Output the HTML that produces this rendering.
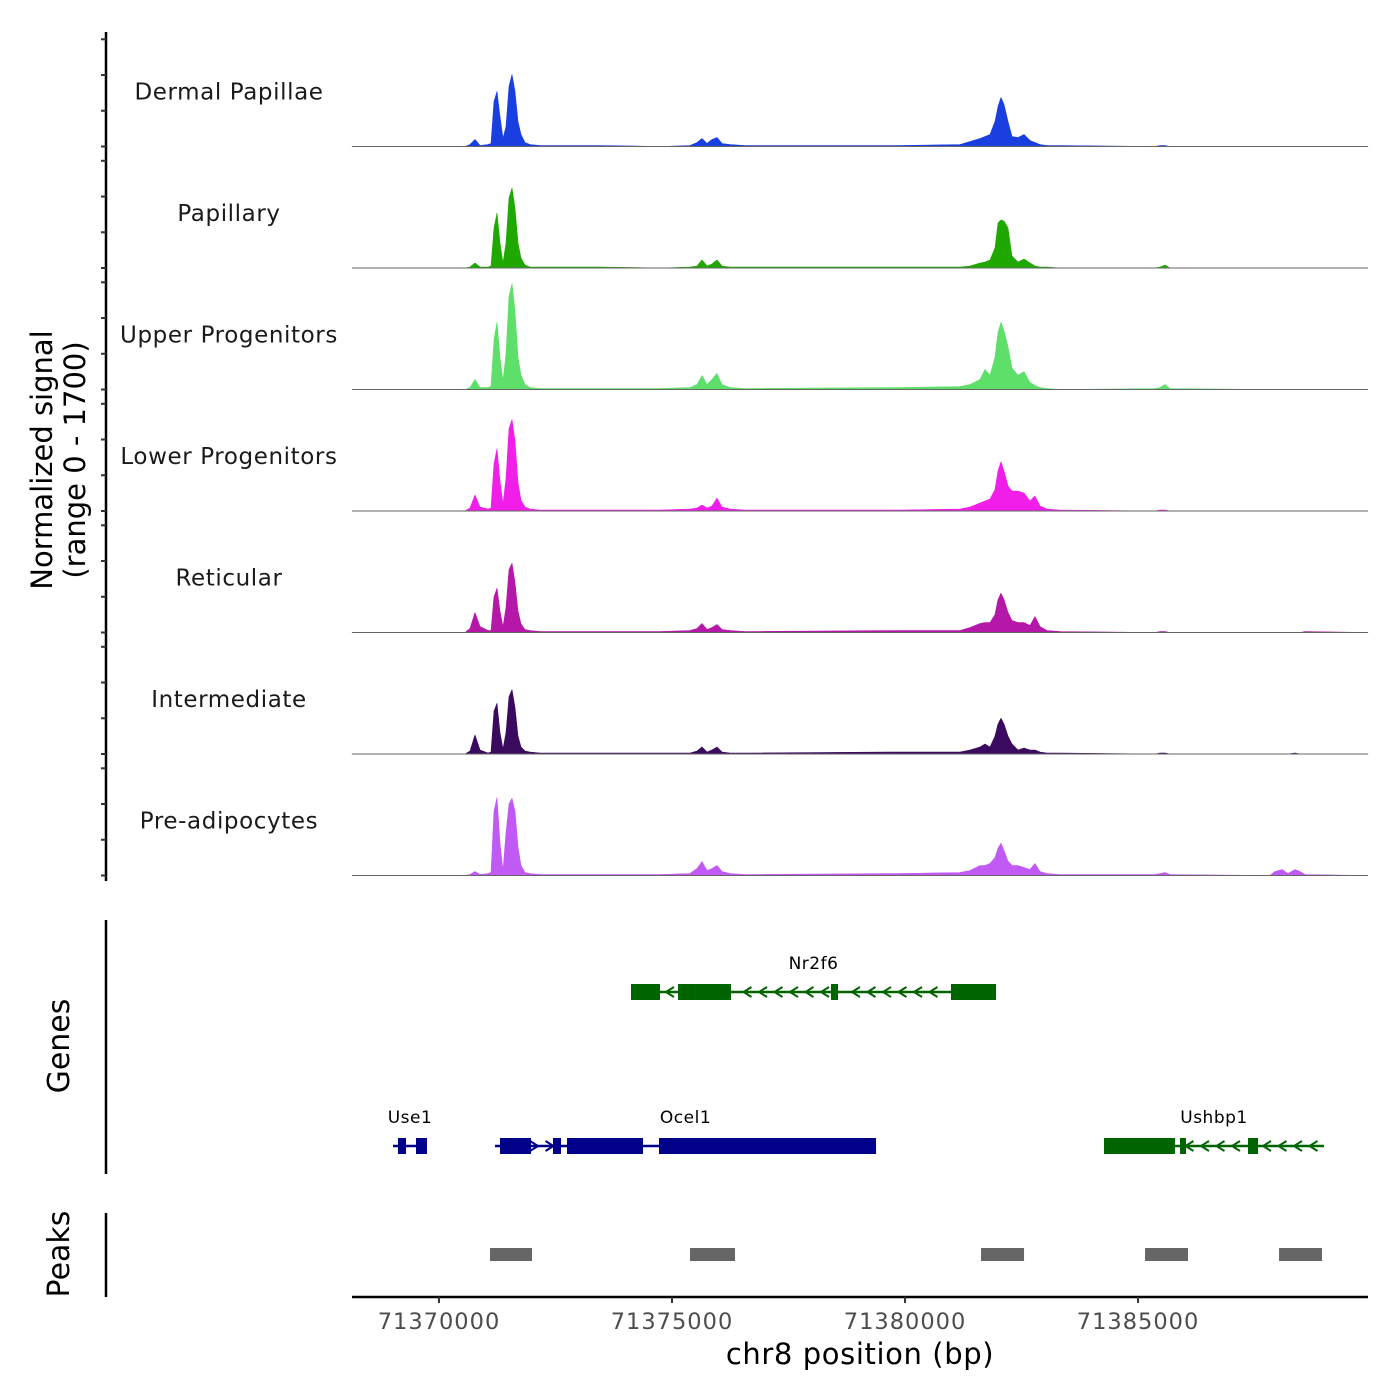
<!DOCTYPE html>
<html><head><meta charset="utf-8"><style>
html,body{margin:0;padding:0;background:#fff}
svg{display:block;font-family:"DejaVu Sans","Liberation Sans",sans-serif}
</style></head><body>
<svg id="chart" width="1400" height="1400" viewBox="0 0 1400 1400" xmlns="http://www.w3.org/2000/svg">
<g id="axes"></g>
<g id="tracks"></g>
<g id="genes"></g>
<g id="peaks"></g>
</svg>
<script>
const positions=[71368133,71370558,71370665,71370773,71370880,71371051,71371116,71371180,71371245,71371309,71371373,71371438,71371502,71371567,71371631,71371695,71371760,71371845,71371953,71372167,71373455,71374742,71375386,71375536,71375644,71375751,71375858,71375966,71376073,71376245,71376566,71379893,71381180,71381395,71381609,71381717,71381824,71381931,71381996,71382060,71382124,71382210,71382296,71382425,71382554,71382682,71382790,71382897,71383047,71383326,71385365,71385472,71385579,71385687,71387833,71387940,71388090,71388219,71388369,71388476,71388583,71389935];
const trackNames=["Dermal Papillae","Papillary","Upper Progenitors","Lower Progenitors","Reticular","Intermediate","Pre-adipocytes"];
const trackColors=["#1a3fe0","#1fa800","#5edf6a","#f01ee8","#b517a8","#3a0a5e","#c15af5"];
const dermalPapillae=[0,0,28,98,14,28,42,630,770,420,112,280,840,1008,770,350,168,56,28,14,14,0,14,56,112,42,98,126,42,28,14,14,28,70,112,140,168,350,560,686,588,350,140,126,168,84,56,28,14,14,0,14,14,0,0,0,0,0,0,0,0,0];
const papillary=[0,0,14,70,14,14,28,560,770,350,70,350,980,1120,840,350,140,42,14,14,14,0,14,28,112,28,56,112,28,14,14,14,14,28,70,84,112,280,630,672,658,560,168,84,126,70,28,14,14,0,0,14,42,0,0,0,0,0,0,0,0,0];
const upperProgenitors=[0,0,28,140,28,28,42,700,940,450,120,500,1300,1480,1100,450,200,70,28,14,14,14,28,70,196,70,140,224,70,28,14,28,42,70,140,280,200,450,800,940,820,600,300,200,250,100,56,28,14,0,14,28,70,14,0,0,0,0,0,0,0,0];
const lowerProgenitors=[0,0,42,224,56,28,42,660,870,420,100,450,1150,1280,980,400,150,56,28,14,14,14,28,42,84,42,70,182,56,28,14,14,28,56,112,140,168,300,560,690,560,350,280,280,250,140,210,70,28,14,0,14,14,0,0,0,0,0,0,0,0,0];
const reticular=[0,0,56,280,84,28,28,500,620,300,80,350,880,970,700,300,120,42,28,14,14,14,28,56,126,42,70,112,42,28,14,28,28,70,126,140,140,250,460,550,460,280,168,140,140,98,224,84,28,14,0,14,14,0,0,0,0,0,0,0,14,0];
const intermediate=[0,0,42,266,56,14,28,600,710,300,70,300,800,900,650,250,100,42,28,14,14,14,14,42,98,28,56,98,28,14,14,28,28,56,98,140,98,250,420,500,420,250,140,56,84,56,56,28,14,14,0,14,14,0,0,0,0,0,14,0,0,0];
const preAdipocytes=[0,0,14,56,14,28,42,900,1090,450,70,600,1000,1080,900,400,140,42,28,14,14,14,28,98,196,70,98,140,56,28,14,28,42,70,140,140,170,250,380,450,350,200,140,140,112,84,168,56,28,14,14,28,42,14,0,56,84,28,84,56,14,0];
const trackValues=[dermalPapillae,papillary,upperProgenitors,lowerProgenitors,reticular,intermediate,preAdipocytes];
const xTicks=[71370000,71375000,71380000,71385000];
const xTickLabels=["71370000","71375000","71380000","71385000"];
const geneNames=["Nr2f6","Use1","Ocel1","Ushbp1"];
const geneStrand=[-1,1,1,-1];
const geneRow=[0,1,1,1];
const geneStart=[71374120,71369013,71371202,71384270];
const geneEnd=[71381953,71369742,71379378,71388991];
const geneExons=[[[71374120,71374742],[71375129,71375494],[71375494,71376266],[71378412,71378562],[71380987,71381953]],[[71369120,71369292],[71369506,71369742]],[[71371309,71371974],[71372446,71372618],[71372747,71374378],[71374721,71379378]],[[71384270,71385794],[71385901,71386030],[71387360,71387575]]];
const peakStarts=[71371094,71375386,71381631,71385150,71388026];
const peakEnds=[71371996,71376352,71382554,71386073,71388948];

const NS="http://www.w3.org/2000/svg";
const X0=71368133,X1=71389935,PX0=352,PX1=1368;
function xs(bp){return PX0+(bp-X0)/(X1-X0)*(PX1-PX0);}
const YMAX=1700,TH=121.5,BASE0=146.5;
function ys(v,i){return BASE0+i*TH-v/YMAX*TH;}
function mk(tag,attrs,parent){const e=document.createElementNS(NS,tag);for(const k in attrs)e.setAttribute(k,attrs[k]);parent.appendChild(e);return e;}
const axes=document.getElementById('axes'),tracks=document.getElementById('tracks'),genes=document.getElementById('genes'),peaks=document.getElementById('peaks');

let l=mk('line',{x1:106,y1:32,x2:106,y2:881,stroke:'#000','stroke-width':2.5},axes);


for(let i=0;i<7;i++){for(let k=0;k<4;k++){const v=k*500;const y=ys(v,i);
 const t=mk('line',{x1:101,y1:y,x2:106,y2:y,stroke:'#333','stroke-width':2},axes);
 
 }}
let yt=mk('text',{transform:'translate(52,460) rotate(-90)','text-anchor':'middle','font-size':29,fill:'#000'},axes);


mk('tspan',{x:0,dy:0},yt).textContent='Normalized signal';
mk('tspan',{x:0,dy:33},yt).textContent='(range 0 - 1700)';

trackNames.forEach((name,i)=>{
 const base=ys(0,i);const vals=trackValues[i];
 let d='M'+xs(positions[0])+','+base;
 positions.forEach((p,j)=>{d+=' L'+xs(p).toFixed(1)+','+ys(vals[j],i).toFixed(1);});
 d+=' L'+xs(positions[positions.length-1])+','+base+' Z';
 const a=mk('path',{d:d,fill:trackColors[i],stroke:trackColors[i],'stroke-width':0.6,'stroke-linejoin':'round'},tracks);
 
 
 const bl=mk('line',{x1:PX0,y1:base,x2:PX1,y2:base,stroke:'#666','stroke-width':1},tracks);
 
 
 const tx=mk('text',{x:229,y:base-47,'text-anchor':'middle','font-size':23,fill:'#1a1a1a','letter-spacing':'0.6'},tracks);
 
 
 tx.textContent=name;
});

let ga=mk('line',{x1:106,y1:920,x2:106,y2:1174,stroke:'#000','stroke-width':2.5},axes);


let gt=mk('text',{transform:'translate(69,1046) rotate(-90)','text-anchor':'middle','font-size':30,fill:'#000'},axes);


gt.textContent='Genes';
const rowY=[992,1146];
geneNames.forEach((g,i)=>{
 const y=rowY[geneRow[i]];const col=geneStrand[i]<0?'#006400':'#00008b';
 const grp=mk('g',{},genes);
 
 
 mk('line',{x1:xs(geneStart[i]),y1:y,x2:xs(geneEnd[i]),y2:y,stroke:col,'stroke-width':2.5},grp);
 geneExons[i].forEach(e=>{const r=mk('rect',{x:xs(e[0]),y:y-8,width:Math.max(2,xs(e[1])-xs(e[0])),height:16,fill:col},grp);
  
  });
 const s=xs(geneStart[i]),en=xs(geneEnd[i]);
 for(let x=s+8;x<en-4;x+=15.5){
  const inEx=geneExons[i].some(e=>x>xs(e[0])-3&&x<xs(e[1])+3);if(inEx)continue;
  const dx=geneStrand[i]*4;
  mk('polyline',{points:(x-dx)+','+(y-5)+' '+(x+dx)+','+y+' '+(x-dx)+','+(y+5),fill:'none',stroke:col,'stroke-width':2},grp);
 }
 const lab=mk('text',{x:(s+en)/2,y:y-23,'text-anchor':'middle','font-size':17,fill:'#000','letter-spacing':'0.5'},grp);
 
 
 lab.textContent=g;
});
let pa=mk('line',{x1:106,y1:1213,x2:106,y2:1297,stroke:'#000','stroke-width':2.5},axes);


let pt=mk('text',{transform:'translate(69,1254) rotate(-90)','text-anchor':'middle','font-size':30,fill:'#000'},axes);


pt.textContent='Peaks';
peakStarts.forEach((p,i)=>{const r=mk('rect',{x:xs(p),y:1248,width:xs(peakEnds[i])-xs(p),height:13,fill:'#666'},peaks);
 
 });

let xa=mk('line',{x1:PX0,y1:1297,x2:PX1,y2:1297,stroke:'#000','stroke-width':2.5},axes);


xTicks.forEach((t,i)=>{
 const tk=mk('line',{x1:xs(t),y1:1297,x2:xs(t),y2:1303,stroke:'#333','stroke-width':2},axes);
 
 
 const tl=mk('text',{x:xs(t),y:1329,'text-anchor':'middle','font-size':22.5,fill:'#4d4d4d','letter-spacing':'1'},axes);
 
 
 tl.textContent=xTickLabels[i];
});
let xt=mk('text',{x:860,y:1364,'text-anchor':'middle','font-size':29,fill:'#000','letter-spacing':'0.6'},axes);


xt.textContent='chr8 position (bp)';
</script>
</body></html>
